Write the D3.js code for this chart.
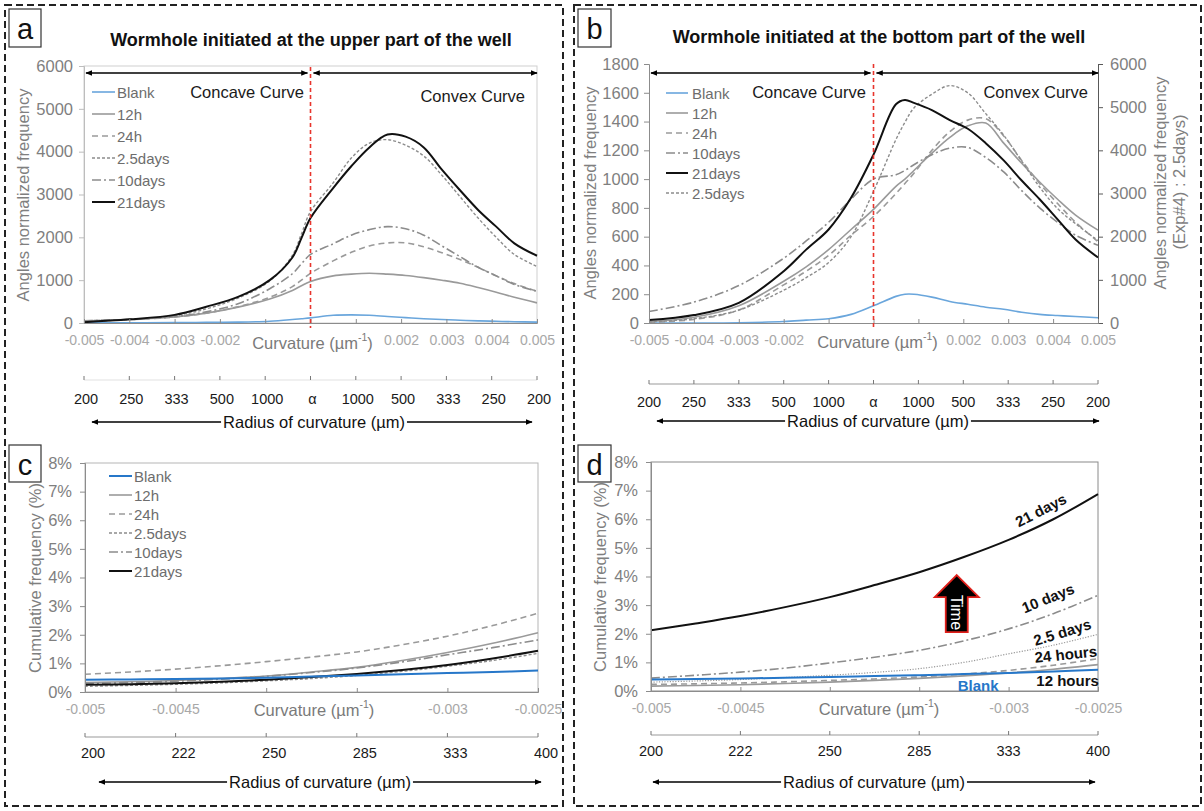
<!DOCTYPE html>
<html><head><meta charset="utf-8">
<script src="https://cdn.jsdelivr.net/npm/d3@7"></script>
<style>body{margin:0;background:#fff} text{font-family:"Liberation Sans",Arial,sans-serif}</style>
</head><body><svg id="c" width="1204" height="811"></svg>
<script>
// ---------------- DATA ----------------
const seriesNames = ["Blank","12h","24h","2.5days","10days","21days"];
const legendOrderB = ["Blank","12h","24h","10days","21days","2.5days"];

const yTicksA = [0,1000,2000,3000,4000,5000,6000];
const yTicksBL = [0,200,400,600,800,1000,1200,1400,1600,1800];
const yTicksBR = [0,1000,2000,3000,4000,5000,6000];
const yTicksCD = [0,1,2,3,4,5,6,7,8];
const curvTicksAB = [-0.005,-0.004,-0.003,-0.002,-0.001,0,0.001,0.002,0.003,0.004,0.005];
const curvLabelsAB = ["-0.005","-0.004","-0.003","-0.002","","","","0.002","0.003","0.004","0.005"];
const radiusLabelsAB = ["200","250","333","500","1000","α","1000","500","333","250","200"];
const curvTicksCD = [-0.005,-0.0045,-0.004,-0.0035,-0.003,-0.0025];
const curvLabelsCD = ["-0.005","-0.0045","","","-0.003","-0.0025"];
const radiusLabelsCD = ["200","222","250","285","333","400"];

// Panel a
const curvA = [-0.005,-0.004,-0.003,-0.0023,-0.0016,-0.0009,-0.0004,-0.0002,0,0.0005,0.0009,0.0013,0.0017,0.0021,0.0025,0.0029,0.0033,0.0037,0.0041,0.0045,0.005];
const aBlank = [5,5,10,15,20,40,80,100,120,180,190,180,150,125,100,80,65,50,40,30,20];
const a12h   = [50,80,140,230,370,560,760,870,970,1100,1140,1160,1140,1110,1060,1000,930,830,720,600,470];
const a24h   = [50,80,140,230,380,600,850,1000,1160,1450,1650,1800,1870,1870,1780,1640,1480,1300,1100,920,740];
const a25d   = [40,80,170,330,580,980,1580,2080,2600,3270,3850,4200,4280,4150,3900,3450,2950,2450,2000,1600,1320];
const a10d   = [50,85,150,260,450,800,1150,1380,1600,1850,2050,2180,2250,2200,2050,1800,1550,1300,1100,900,740];
const a21d   = [20,85,190,380,610,1000,1530,1980,2450,3150,3660,4100,4400,4350,4100,3580,3100,2640,2250,1860,1570];

// Panel b (2.5days on the right axis)
const curvB = [-0.005,-0.004,-0.003,-0.002,-0.0015,-0.001,-0.0005,0,0.0005,0.0007,0.0009,0.0013,0.0017,0.0021,0.0025,0.0029,0.0033,0.0037,0.0041,0.0045,0.005];
const bBlank = [0,0,2,10,20,30,60,120,185,200,200,180,150,130,110,95,75,60,52,45,37];
const b12h   = [10,40,120,290,390,510,650,790,950,1000,1060,1180,1290,1370,1390,1250,1110,980,860,750,645];
const b24h   = [5,25,90,265,360,470,610,740,900,970,1040,1200,1330,1410,1420,1300,1130,970,830,700,565];
const b10d   = [80,145,260,450,570,700,860,1000,1030,1060,1100,1170,1215,1220,1150,1050,920,800,700,610,540];
const b21d   = [20,55,140,360,510,650,870,1170,1520,1550,1530,1480,1410,1350,1250,1130,990,860,720,580,455];
const b25dRight = [25,100,300,760,1050,1400,2000,3050,4250,4650,4980,5300,5500,5330,4850,4350,3750,3150,2650,2300,1910];

// Panel c
const curvCD = [-0.005,-0.00475,-0.0045,-0.00425,-0.004,-0.00375,-0.0035,-0.00325,-0.003,-0.00275,-0.0025];
const cBlank = [0.43,0.44,0.45,0.47,0.5,0.54,0.58,0.62,0.66,0.7,0.75];
const c12h   = [0.33,0.36,0.4,0.47,0.56,0.7,0.86,1.1,1.38,1.7,2.07];
const c24h   = [0.62,0.7,0.8,0.92,1.06,1.22,1.4,1.65,1.95,2.32,2.75];
const c25d   = [0.2,0.23,0.27,0.32,0.39,0.47,0.58,0.72,0.9,1.1,1.35];
const c10d   = [0.3,0.33,0.38,0.45,0.55,0.68,0.84,1.05,1.3,1.55,1.82];
const c21d   = [0.25,0.27,0.31,0.36,0.43,0.52,0.63,0.77,0.94,1.17,1.44];

// Panel d
const dBlank = [0.4,0.42,0.44,0.46,0.49,0.52,0.55,0.59,0.63,0.68,0.74];
const d12h   = [0.17,0.19,0.22,0.26,0.31,0.37,0.44,0.53,0.63,0.76,0.92];
const d24h   = [0.23,0.25,0.28,0.32,0.37,0.42,0.49,0.59,0.72,0.9,1.13];
const d25d   = [0.31,0.35,0.4,0.47,0.55,0.65,0.78,1.0,1.3,1.6,1.98];
const d10d   = [0.45,0.55,0.66,0.8,0.98,1.18,1.42,1.75,2.17,2.7,3.34];
const d21d   = [2.12,2.36,2.62,2.93,3.28,3.7,4.15,4.68,5.28,6.0,6.88];
const dLabels = [
  {text:"21 days", c:-0.00282, v:6.32, rot:-27, color:"#111"},
  {text:"10 days", c:-0.00278, v:3.25, rot:-22, color:"#111"},
  {text:"2.5 days", c:-0.0027, v:2.06, rot:-17, color:"#111"},
  {text:"24 hours", c:-0.00268, v:1.29, rot:-6, color:"#111"},
  {text:"12 hours", c:-0.00267, v:0.35, rot:0, color:"#111"},
  {text:"Blank", c:-0.00317, v:0.2, rot:0, color:"#2677c9"}
];

// ---------------- STYLES ----------------
const baseStyle = {
  "Blank":   {stroke:"#6aa6dc", w:1.6, dash:null},
  "12h":     {stroke:"#9a9a9a", w:1.6, dash:null},
  "24h":     {stroke:"#9a9a9a", w:1.6, dash:"6,4"},
  "2.5days": {stroke:"#8c8c8c", w:1.4, dash:"3,2"},
  "10days":  {stroke:"#8c8c8c", w:1.6, dash:"9,3,2,3"},
  "21days":  {stroke:"#111111", w:2,   dash:null}
};
const styleCD = Object.assign({}, baseStyle, {"Blank":{stroke:"#2677c9", w:2, dash:null}});
const styleD = Object.assign({}, styleCD, {"2.5days":{stroke:"#9a9a9a", w:1.2, dash:"1.2,1.5"}});

const FONT = '"Liberation Sans",Arial,sans-serif';
const fmtInt = d3.format("d");
const svg = d3.select("#c");
svg.append("rect").attr("width",1204).attr("height",811).attr("fill","#fff");
const defs = svg.append("defs");
defs.append("marker").attr("id","ah").attr("viewBox","0 0 10 10").attr("refX",9).attr("refY",5)
  .attr("markerWidth",7).attr("markerHeight",7).attr("markerUnits","userSpaceOnUse")
  .attr("orient","auto-start-reverse")
  .append("path").attr("d","M0,1L10,5L0,9z").attr("fill","#000");

// panel borders
svg.append("rect").attr("x",5).attr("y",5).attr("width",558).attr("height",801)
  .attr("fill","none").attr("stroke","#222").attr("stroke-width",2).attr("stroke-dasharray","7,4");
svg.append("rect").attr("x",574).attr("y",5).attr("width",627).attr("height",801)
  .attr("fill","none").attr("stroke","#222").attr("stroke-width",2).attr("stroke-dasharray","7,4");

function letterBox(x,y,w,h,t){
  svg.append("rect").attr("x",x).attr("y",y).attr("width",w).attr("height",h)
    .attr("fill","#fff").attr("stroke","#333").attr("stroke-width",1.2);
  svg.append("text").attr("x",x+w/2).attr("y",y+h/2+1).attr("text-anchor","middle")
    .attr("dominant-baseline","central").attr("font-size",29).attr("fill","#111").text(t);
}
letterBox(9,9,32,38,"a"); letterBox(578,9,33,38,"b");
letterBox(9,445,32,37,"c"); letterBox(578,445,33,37,"d");

function styleAxis(g, color, size, domainColor, tickColor){
  g.select(".domain").attr("stroke",domainColor);
  g.selectAll(".tick line").attr("stroke",tickColor||domainColor);
  g.selectAll(".tick text").attr("fill",color).attr("font-size",size).attr("font-family",FONT);
}
function drawLines(x, y, xs, list, styles){
  list.forEach(s=>{
    const st = styles[s.name];
    const yy = s.y || y;
    const gen = d3.line((d,i)=>x(xs[i]), d=>yy(d)).curve(d3.curveCatmullRom.alpha(0.5));
    svg.append("path").datum(s.values).attr("d", gen)
      .attr("fill","none").attr("stroke",st.stroke).attr("stroke-width",st.w)
      .attr("stroke-dasharray",st.dash).attr("stroke-linejoin","round");
  });
}
function legend(names, styles, x0, x1, tx, y0, step, size){
  names.forEach((n,i)=>{
    const st = styles[n], yy = y0 + i*step;
    svg.append("line").attr("x1",x0).attr("x2",x1).attr("y1",yy).attr("y2",yy)
      .attr("stroke",st.stroke).attr("stroke-width",st.w).attr("stroke-dasharray",st.dash);
    svg.append("text").attr("x",tx).attr("y",yy).attr("dominant-baseline","central")
      .attr("font-size",size).attr("fill","#6d6d6d").text(n);
  });
}
function curvTitle(x,y){
  const t = svg.append("text").attr("x",x).attr("y",y).attr("text-anchor","middle")
    .attr("dominant-baseline","central").attr("font-size",16.5).attr("fill","#7a7a7a");
  t.append("tspan").text("Curvature (µm");
  t.append("tspan").attr("dy",-6).attr("font-size",10.5).text("-1");
  t.append("tspan").attr("dy",6).text(")");
}
function radiusAxis(x, ticks, labels, yLine, yLab, lineColor, dx){
  svg.append("line").attr("x1",x(ticks[0])).attr("x2",x(ticks[ticks.length-1]))
    .attr("y1",yLine).attr("y2",yLine).attr("stroke",lineColor).attr("stroke-width",1.2);
  ticks.forEach((t,i)=>{
    svg.append("line").attr("x1",x(t)).attr("x2",x(t)).attr("y1",yLine).attr("y2",yLine-4)
      .attr("stroke","#777").attr("stroke-width",1);
    svg.append("text").attr("x",x(t)+(dx||0)).attr("y",yLab).attr("text-anchor","middle")
      .attr("dominant-baseline","central").attr("font-size",14.5).attr("fill","#1a1a1a").text(labels[i]);
  });
}
function radiusTitle(cx, y, xl, xr){
  const t = svg.append("text").attr("x",cx).attr("y",y).attr("text-anchor","middle")
    .attr("dominant-baseline","central").attr("font-size",16.5).attr("fill","#111").text("Radius of curvature (µm)");
  const w = t.node().getComputedTextLength();
  svg.append("line").attr("x1",cx-w/2-2).attr("x2",xl).attr("y1",y).attr("y2",y)
    .attr("stroke","#000").attr("stroke-width",1.4).attr("marker-end","url(#ah)");
  svg.append("line").attr("x1",cx+w/2+2).attr("x2",xr).attr("y1",y).attr("y2",y)
    .attr("stroke","#000").attr("stroke-width",1.4).attr("marker-end","url(#ah)");
}
function yTitle(x, y, text, color){
  svg.append("text").attr("transform",`translate(${x},${y}) rotate(-90)`).attr("text-anchor","middle")
    .attr("dominant-baseline","central").attr("font-size",16.5).attr("fill",color||"#7f7f7f").text(text);
}
function topArrows(x, y){
  svg.append("line").attr("x1",x(-0.005)+2).attr("x2",x(0)-3).attr("y1",y).attr("y2",y)
    .attr("stroke","#000").attr("stroke-width",1.6).attr("marker-start","url(#ah)").attr("marker-end","url(#ah)");
  svg.append("line").attr("x1",x(0)+3).attr("x2",x(0.005)).attr("y1",y).attr("y2",y)
    .attr("stroke","#000").attr("stroke-width",1.6).attr("marker-start","url(#ah)").attr("marker-end","url(#ah)");
}
function redLine(x, y0, y1){
  svg.append("line").attr("x1",x(0)).attr("x2",x(0)).attr("y1",y0).attr("y2",y1)
    .attr("stroke","#e8352d").attr("stroke-width",1.6).attr("stroke-dasharray","4,3");
}
function title(cx, y, t){
  svg.append("text").attr("x",cx).attr("y",y).attr("text-anchor","middle").attr("dominant-baseline","central")
    .attr("font-size",18).attr("font-weight","bold").attr("fill","#111").text(t);
}

// ================= PANEL A =================
const xA = d3.scaleLinear().domain([-0.005,0.005]).range([84,537]);
const yA = d3.scaleLinear().domain([0,6000]).range([323,66]);
title(311, 40, "Wormhole initiated at the upper part of the well");
svg.append("rect").attr("x",xA(-0.005)).attr("y",yA(6000)).attr("width",xA(0.005)-xA(-0.005))
  .attr("height",yA(0)-yA(6000)).attr("fill","none").attr("stroke","#cfcfcf");
drawLines(xA, yA, curvA, [
  {name:"Blank",values:aBlank},{name:"12h",values:a12h},{name:"24h",values:a24h},
  {name:"2.5days",values:a25d},{name:"10days",values:a10d},{name:"21days",values:a21d}], baseStyle);
styleAxis(svg.append("g").attr("transform",`translate(${xA(-0.005)},0)`)
  .call(d3.axisLeft(yA).tickValues(yTicksA).tickFormat(fmtInt).tickSize(5).tickPadding(6)), "#7f7f7f", 16.5, "#bdbdbd");
styleAxis(svg.append("g").attr("transform",`translate(0,${yA(0)})`)
  .call(d3.axisBottom(xA).tickValues(curvTicksAB).tickSize(-4).tickPadding(12).tickFormat((d,i)=>curvLabelsAB[i])),
  "#a8a8a8", 14, "#8c8c8c");
curvTitle(xA(0)+2, 343);
redLine(xA, 67, 328);
topArrows(xA, 73);
legend(seriesNames, baseStyle, 92, 115, 117, 92, 22, 15);
svg.append("text").attr("x",247).attr("y",92).attr("text-anchor","middle").attr("dominant-baseline","central")
  .attr("font-size",16.5).attr("fill","#1a1a1a").text("Concave Curve");
svg.append("text").attr("x",525).attr("y",96).attr("text-anchor","end").attr("dominant-baseline","central")
  .attr("font-size",16.5).attr("fill","#1a1a1a").text("Convex Curve");
yTitle(23, 195, "Angles normalized frequency");
radiusAxis(xA, curvTicksAB, radiusLabelsAB, 380, 399, "#e2e2e2", 2);
radiusTitle(314, 422, 92, 532);

// ================= PANEL B =================
const xB = d3.scaleLinear().domain([-0.005,0.005]).range([649,1098]);
const yBL = d3.scaleLinear().domain([0,1800]).range([323,64]);
const yBR = d3.scaleLinear().domain([0,6000]).range([323,64]);
title(879, 37, "Wormhole initiated at the bottom part of the well");
drawLines(xB, yBL, curvB, [
  {name:"Blank",values:bBlank},{name:"12h",values:b12h},{name:"24h",values:b24h},
  {name:"10days",values:b10d},{name:"2.5days",values:b25dRight,y:yBR},{name:"21days",values:b21d}], baseStyle);
styleAxis(svg.append("g").attr("transform",`translate(${xB(-0.005)},0)`)
  .call(d3.axisLeft(yBL).tickValues(yTicksBL).tickFormat(fmtInt).tickSize(5).tickPadding(5)), "#7f7f7f", 16.5, "#8c8c8c");
styleAxis(svg.append("g").attr("transform",`translate(${xB(0.005)},0)`)
  .call(d3.axisRight(yBR).tickValues(yTicksBR).tickFormat(fmtInt).tickSize(5).tickPadding(7)), "#7f7f7f", 16.5, "#595959");
styleAxis(svg.append("g").attr("transform",`translate(0,${yBL(0)})`)
  .call(d3.axisBottom(xB).tickValues(curvTicksAB).tickSize(-4).tickPadding(12).tickFormat((d,i)=>curvLabelsAB[i])),
  "#a8a8a8", 14, "#8c8c8c");
curvTitle(xB(0)+4, 342);
redLine(xB, 64, 328);
topArrows(xB, 73);
legend(legendOrderB, baseStyle, 666, 688, 692, 93, 20, 15);
svg.append("text").attr("x",809).attr("y",92).attr("text-anchor","middle").attr("dominant-baseline","central")
  .attr("font-size",16.5).attr("fill","#1a1a1a").text("Concave Curve");
svg.append("text").attr("x",1088).attr("y",92).attr("text-anchor","end").attr("dominant-baseline","central")
  .attr("font-size",16.5).attr("fill","#1a1a1a").text("Convex Curve");
yTitle(590, 193, "Angles normalized frequency");
yTitle(1160, 183, "Angles normalized frequency");
yTitle(1179, 182, "(Exp#4) : 2.5days)");
radiusAxis(xB, curvTicksAB, radiusLabelsAB, 384, 402, "#9a9a9a", 0);
radiusTitle(878, 421, 657, 1099);

// ================= PANEL C =================
const xC = d3.scaleLinear().domain([-0.005,-0.0025]).range([85,538]);
const yC = d3.scaleLinear().domain([0,8]).range([692,463]);
svg.append("rect").attr("x",xC(-0.005)).attr("y",yC(8)).attr("width",xC(-0.0025)-xC(-0.005))
  .attr("height",yC(0)-yC(8)).attr("fill","none").attr("stroke","#b5b5b5");
drawLines(xC, yC, curvCD, [
  {name:"12h",values:c12h},{name:"24h",values:c24h},{name:"2.5days",values:c25d},
  {name:"10days",values:c10d},{name:"21days",values:c21d},{name:"Blank",values:cBlank}], styleCD);
styleAxis(svg.append("g").attr("transform",`translate(${xC(-0.005)},0)`)
  .call(d3.axisLeft(yC).tickValues(yTicksCD).tickSize(5).tickPadding(8).tickFormat(d=>d+"%")), "#7f7f7f", 16.5, "#8c8c8c");
styleAxis(svg.append("g").attr("transform",`translate(0,${yC(0)})`)
  .call(d3.axisBottom(xC).tickValues(curvTicksCD).tickSize(-4).tickPadding(12).tickFormat((d,i)=>curvLabelsCD[i])),
  "#a8a8a8", 14, "#8c8c8c");
curvTitle(314, 710);
legend(seriesNames, styleCD, 109, 132, 134, 476, 19, 15);
yTitle(35, 578, "Cumulative frequency (%)");
radiusAxis(xC, curvTicksCD, radiusLabelsCD, 737, 753, "#9a9a9a", 8);
radiusTitle(320, 782, 99, 541);

// ================= PANEL D =================
const xD = d3.scaleLinear().domain([-0.005,-0.0025]).range([651,1098]);
const yD = d3.scaleLinear().domain([0,8]).range([691,462]);
svg.append("rect").attr("x",xD(-0.005)).attr("y",yD(8)).attr("width",xD(-0.0025)-xD(-0.005))
  .attr("height",yD(0)-yD(8)).attr("fill","none").attr("stroke","#8a8a8a");
drawLines(xD, yD, curvCD, [
  {name:"12h",values:d12h},{name:"24h",values:d24h},{name:"2.5days",values:d25d},
  {name:"10days",values:d10d},{name:"21days",values:d21d},{name:"Blank",values:dBlank}], styleD);
styleAxis(svg.append("g").attr("transform",`translate(${xD(-0.005)},0)`)
  .call(d3.axisLeft(yD).tickValues(yTicksCD).tickSize(5).tickPadding(8).tickFormat(d=>d+"%")), "#7f7f7f", 16.5, "#8c8c8c");
styleAxis(svg.append("g").attr("transform",`translate(0,${yD(0)})`)
  .call(d3.axisBottom(xD).tickValues(curvTicksCD).tickSize(-4).tickPadding(12).tickFormat((d,i)=>curvLabelsCD[i])),
  "#a8a8a8", 14, "#8c8c8c");
curvTitle(879, 709);
yTitle(600, 577, "Cumulative frequency (%)");
radiusAxis(xD, curvTicksCD, radiusLabelsCD, 735, 751, "#9a9a9a", 0);
radiusTitle(874, 782, 653, 1095);
dLabels.forEach(l=>{
  svg.append("text").attr("transform",`translate(${xD(l.c)},${yD(l.v)}) rotate(${l.rot})`)
    .attr("text-anchor","middle").attr("dominant-baseline","central").attr("font-size",15)
    .attr("font-weight","bold").attr("fill",l.color).text(l.text);
});
// Time arrow
(function(){
  const cx = xD(-0.00329), tip = yD(4.05), hb = yD(3.28), bot = yD(2.06);
  const bw = 11, hw = 22;
  svg.append("path").attr("d",`M${cx},${tip}L${cx+hw},${hb}L${cx+bw},${hb}L${cx+bw},${bot}L${cx-bw},${bot}L${cx-bw},${hb}L${cx-hw},${hb}Z`)
    .attr("fill","#000").attr("stroke","#e0201b").attr("stroke-width",1.8).attr("stroke-linejoin","miter");
  svg.append("text").attr("transform",`translate(${cx},${(hb+bot)/2-2}) rotate(90)`).attr("text-anchor","middle")
    .attr("dominant-baseline","central").attr("font-size",16).attr("fill","#fff").text("Time");
})();
</script></body></html>
